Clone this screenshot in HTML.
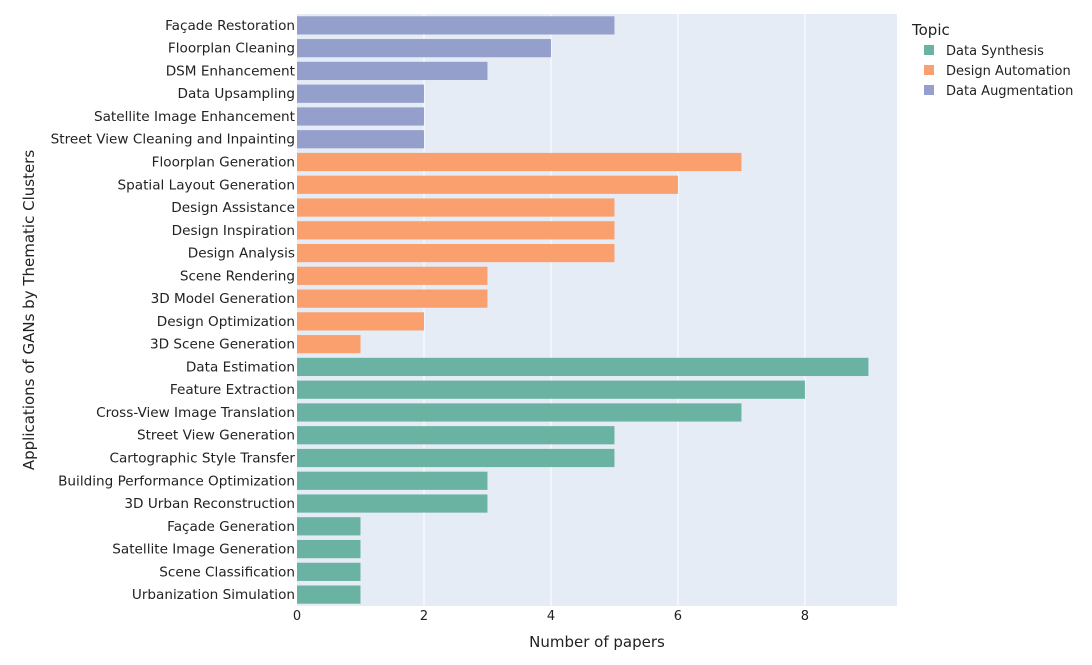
<!DOCTYPE html>
<html><head><meta charset="utf-8"><style>
body{margin:0;background:#fff;font-family:"DejaVu Sans","Liberation Sans",sans-serif;}
svg text{font-family:"DejaVu Sans","Liberation Sans",sans-serif;fill:#222;}
</style></head><body>
<svg id="chart" width="1092" height="661" xmlns="http://www.w3.org/2000/svg">
<rect x="297" y="14" width="600" height="592" fill="#e5ecf6"/>
<g id="grid"></g><g id="bars"></g><g id="ylabels"></g><g id="xlabels"></g>
<text x="597" y="647" text-anchor="middle" font-size="15">Number of papers</text>
<text transform="translate(34,310) rotate(-90)" text-anchor="middle" font-size="15">Applications of GANs by Thematic Clusters</text>
<g>
<text x="912" y="35" font-size="15">Topic</text>
<rect x="924" y="45" width="10" height="10" fill="#6ab3a2"/>
<text x="946" y="55" font-size="13">Data Synthesis</text>
<rect x="924" y="65" width="10" height="10" fill="#f9a06e"/>
<text x="946" y="75" font-size="13">Design Automation</text>
<rect x="924" y="85" width="10" height="10" fill="#949fcb"/>
<text x="946" y="95" font-size="13">Data Augmentation</text>
</g>
</svg>
<script>
const categories=["Façade Restoration","Floorplan Cleaning","DSM Enhancement","Data Upsampling","Satellite Image Enhancement","Street View Cleaning and Inpainting","Floorplan Generation","Spatial Layout Generation","Design Assistance","Design Inspiration","Design Analysis","Scene Rendering","3D Model Generation","Design Optimization","3D Scene Generation","Data Estimation","Feature Extraction","Cross-View Image Translation","Street View Generation","Cartographic Style Transfer","Building Performance Optimization","3D Urban Reconstruction","Façade Generation","Satellite Image Generation","Scene Classification","Urbanization Simulation"];
const values=[5,4,3,2,2,2,7,6,5,5,5,3,3,2,1,9,8,7,5,5,3,3,1,1,1,1];
const topics=["aug","aug","aug","aug","aug","aug","des","des","des","des","des","des","des","des","des","syn","syn","syn","syn","syn","syn","syn","syn","syn","syn","syn"];
const xTicks=[0,2,4,6,8];
const colors={syn:"#6ab3a2",des:"#f9a06e",aug:"#949fcb"};
const NS="http://www.w3.org/2000/svg";
const x0=297,plotW=600,xMax=9.45,plotTop=14,plotH=592;
const xs=v=>x0+v/xMax*plotW;
const step=plotH/categories.length;
const yc=i=>plotTop+step*(i+0.5);
function mk(t,a,p){const e=document.createElementNS(NS,t);for(const k in a)e.setAttribute(k,a[k]);document.getElementById(p).appendChild(e);return e;}
xTicks.forEach(t=>{
 if(t>0){const g=mk("line",{x1:xs(t),x2:xs(t),y1:plotTop,y2:plotTop+plotH,stroke:"#fff","stroke-width":1},"grid");
 
 }
 const l=mk("text",{x:xs(t),y:620,"text-anchor":"middle","font-size":13},"xlabels");l.textContent=t;
 
 
});
categories.forEach((c,i)=>{
 const h=step*0.8;
 const b=mk("rect",{x:x0,y:yc(i)-h/2,width:xs(values[i])-x0,height:h,fill:colors[topics[i]]},"bars");
 
 
 const l=mk("text",{x:x0-2,y:yc(i)+4.5,"text-anchor":"end","font-size":13.6},"ylabels");l.textContent=c;
 
 
});
</script>
</body></html>
